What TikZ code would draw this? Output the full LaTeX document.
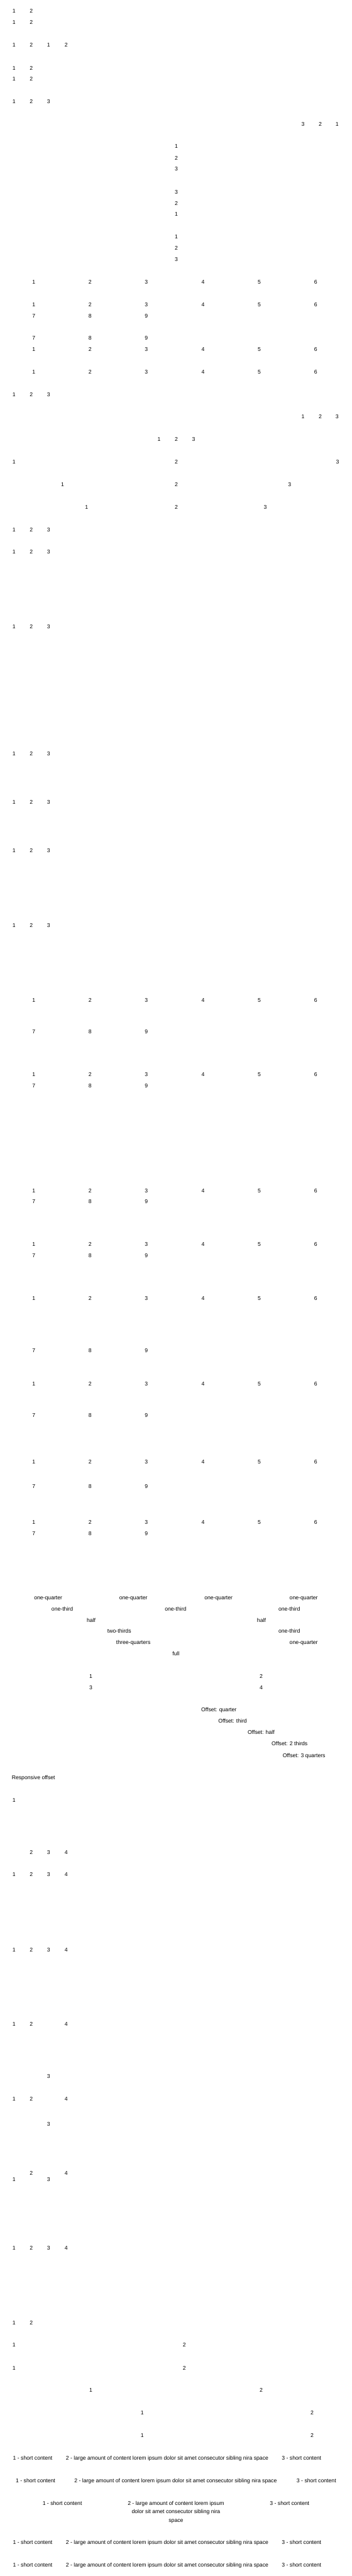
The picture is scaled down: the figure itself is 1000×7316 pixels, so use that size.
\documentclass[tikz,border=0pt]{standalone}
\usepackage{fontspec}
\setmainfont{Liberation Sans}
\usepackage{tikz}

\begin{document}
\begin{tikzpicture}[
  x=0.02cm, y=-0.02cm,
  every node/.style={font=\fontsize{8.82pt}{13.66pt}\selectfont},
  cell/.style={anchor=base, inner sep=0pt, yshift=-0.11cm},
  para/.style={anchor=north, inner sep=0pt, align=center},
]
\useasboundingbox (0,0) rectangle (1000,7316);

%% ── Short rows, left ───────────────────────────────────────────────────
\foreach \y in {32,64,193,224,6596}
  \foreach \x/\t in {40/1,89/2}
    \node[cell] (n\y-\t) at (\x,\y) {\t};
\foreach \x/\t [count=\k] in {40/1,89/2,138/1,188/2}
  \node[cell] (n128-\k) at (\x,128) {\t};
\foreach \y in {288,1120,1505,1568,1780,2140,2278,2416,2629}
  \foreach \x/\t in {40/1,89/2,138/3}
    \node[cell] (n\y-\t) at (\x,\y) {\t};

%% ── Short rows, right ──────────────────────────────────────────────────
\foreach \x/\t in {861/3,910/2,958/1}
  \node[cell] (n352-\t) at (\x,352) {\t};
\foreach \x/\t in {861/1,910/2,958/3}
  \node[cell] (n1184-\t) at (\x,1184) {\t};

%% ── Centre stack ───────────────────────────────────────────────────────
\foreach \y/\t in {416/1,449/2,480/3,545/3,577/2,608/1,672/1,704/2,736/3}
  \node[cell] (v\y) at (501,\y) {\t};

%% ── Six-column rows ────────────────────────────────────────────────────
\foreach \y in {801,865,992,1056,2841,3052,3381,3534,3688,3930,4152,4324}
  \foreach \x/\t in {96/1,256/2,416/3,577/4,737/5,897/6}
    \node[cell] (n\y-\t) at (\x,\y) {\t};
\foreach \y in {897,960,2930,3084,3413,3566,3836,4019,4221,4356}
  \foreach \x/\t in {96/7,256/8,416/9}
    \node[cell] (n\y-\t) at (\x,\y) {\t};

%% ── Spread rows ────────────────────────────────────────────────────────
\foreach \y/\a/\b/\c in {1248/452/501/550, 1312/40/501/959,
                         1376/178/501/823, 1441/246/501/754} {
  \node[cell] (n\y-1) at (\a,\y) {1};
  \node[cell] (n\y-2) at (\b,\y) {2};
  \node[cell] (n\y-3) at (\c,\y) {3};
}

%% ── Fractions ──────────────────────────────────────────────────────────
\foreach \y/\x/\t [count=\k] in {
    4537/137/one-quarter, 4537/379/one-quarter,
    4537/621/one-quarter, 4537/863/one-quarter,
    4569/177/one-third, 4569/499/one-third, 4569/822/one-third,
    4601/259/half, 4601/743/half,
    4633/339/two-thirds, 4633/822/one-third,
    4665/379/three-quarters, 4665/863/one-quarter,
    4697/500/full}
  \node[cell] (f\k) at (\x,\y) {\t};

\foreach \y/\a/\b/\ta/\tb in {4760/258/742/1/2, 4792/258/742/3/4,
                              6660/40/524/1/2, 6725/40/524/1/2,
                              6788/258/742/1/2, 6853/404/887/1/2,
                              6917/404/887/1/2} {
  \node[cell] (n\y-\ta) at (\a,\y) {\ta};
  \node[cell] (n\y-\tb) at (\b,\y) {\tb};
}

%% ── Offsets ────────────────────────────────────────────────────────────
\foreach \y/\x/\t [count=\k] in {
    4856/622/Offset: quarter, 4888/661/Offset: third,
    4920/742/Offset: half, 4952/823/Offset: 2 thirds,
    4985/864/Offset: 3 quarters}
  \node[cell] (off\k) at (\x,\y) {\t};

%% ── Responsive offset ──────────────────────────────────────────────────
\node[cell] (resp) at (95,5048) {Responsive offset};
\node[cell] (n5112-1) at (40,5112) {1};
\foreach \x/\t in {89/2,138/3,188/4}
  \node[cell] (n5260-\t) at (\x,5260) {\t};
\foreach \y in {5324,5537,6385}
  \foreach \x/\t in {40/1,89/2,138/3,188/4}
    \node[cell] (n\y-\t) at (\x,\y) {\t};
\foreach \y/\z in {5748/5897, 5961/6033} {
  \foreach \x/\t in {40/1,89/2,188/4}
    \node[cell] (n\y-\t) at (\x,\y) {\t};
  \node[cell] (n\z-3) at (138,\z) {3};
}
\node[cell] (n6172-2) at (89,6172)  {2};
\node[cell] (n6172-4) at (188,6172) {4};
\node[cell] (n6189-1) at (40,6189)  {1};
\node[cell] (n6189-3) at (138,6189) {3};

%% ── Content rows ───────────────────────────────────────────────────────
\foreach \y/\a/\b/\c in {6981/93/475/857, 7045/101/499/899,
                         7221/93/475/857, 7285/93/475/857} {
  \node[cell] (s\y-1) at (\a,\y) {1 - short content};
  \node[cell] (s\y-2) at (\b,\y)
    {2 - large amount of content lorem ipsum dolor sit amet consecutor sibling nira space};
  \node[cell] (s\y-3) at (\c,\y) {3 - short content};
}
\node[cell] (s7109-1) at (177,7109) {1 - short content};
\node[para] (s7109-2) at (500,7103)
  {2 - large amount of content lorem ipsum\\dolor sit amet consecutor sibling nira\\space};
\node[cell] (s7109-3) at (823,7109) {3 - short content};

\end{tikzpicture}
\end{document}
